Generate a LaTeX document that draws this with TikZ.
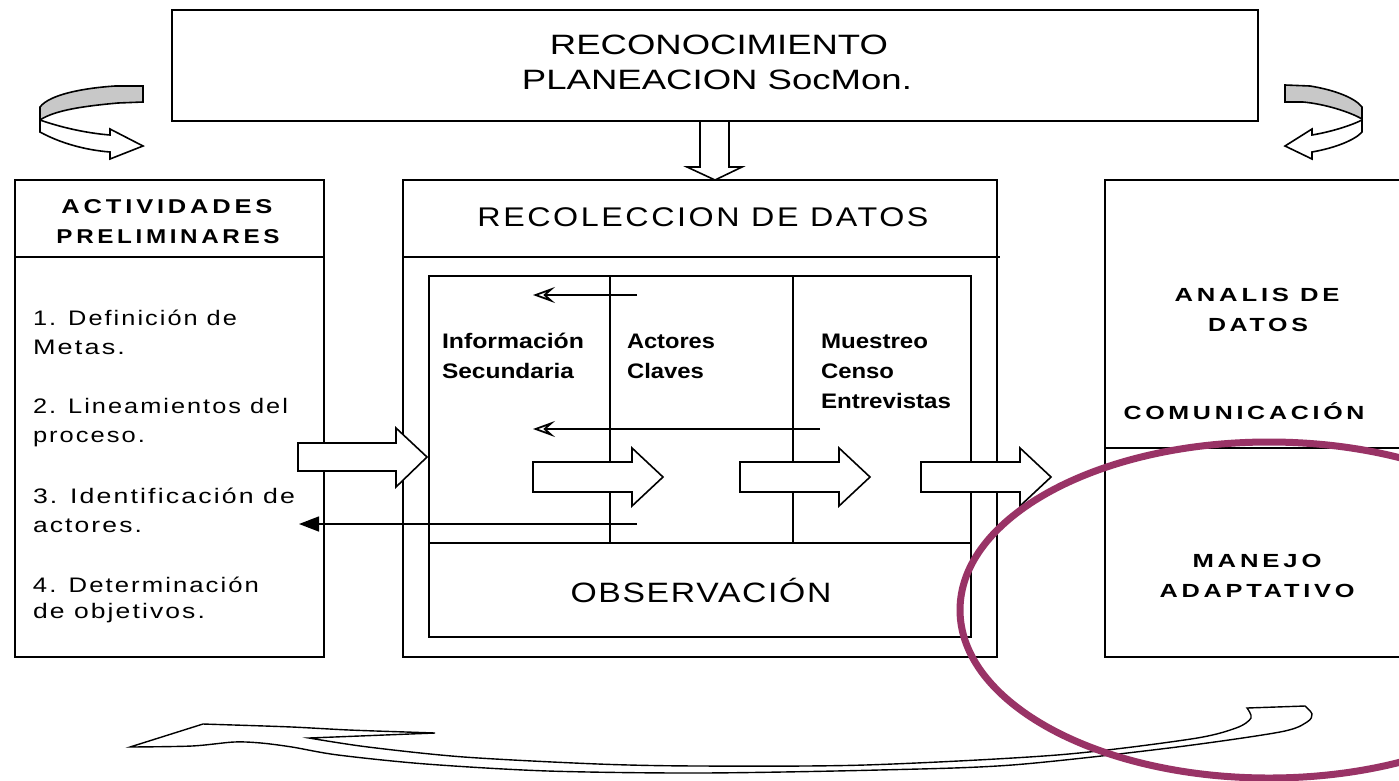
\documentclass[tikz,border=0pt]{standalone}
\usepackage{fontspec}
\setmainfont{Liberation Sans}
\usepackage{graphicx}
\usetikzlibrary{arrows.meta}
\newcommand\fitw[2]{\resizebox{#1pt}{\height}{#2}}
\newcommand\fsz[1]{\fontsize{#1}{#1}\selectfont}
\newcommand\lsp[1]{\addfontfeature{LetterSpace=#1}}
\definecolor{ellcol}{RGB}{153,51,102}
\definecolor{bandgray}{RGB}{200,200,200}
\begin{document}
\begin{tikzpicture}[x=1pt,y=-1pt,
  box/.style={draw=black,line width=1.8pt},
  divln/.style={draw=black,line width=1.8pt},
  barrow/.style={draw=black,fill=white,line width=1.6pt,line join=miter},
  uband/.style={draw=black,fill=bandgray,line width=1.6pt},
  uwhite/.style={draw=black,fill=white,line width=1.6pt},
  ribbon/.style={draw=black,fill=white,line width=1.4pt},
  thinarr/.style={draw=black,line width=1.5pt,-{Stealth[open,length=22pt,width=16pt,inset=9pt,line width=1.8pt]}},
  trarr/.style={draw=black,line width=1.5pt,-{Triangle[length=20pt,width=15pt]}},
  txt/.style={inner sep=0pt,outer sep=0pt,anchor=base,text=black},
  ltxt/.style={inner sep=0pt,outer sep=0pt,anchor=base west,text=black},
  ellip/.style={draw=ellcol,line width=7pt}
]
\clip (0,0) rectangle (1399,780);
\fill[white] (0,0) rectangle (1399,780);

% ---------- boxes ----------
\draw[box] (172,10) rectangle (1258,121);
\draw[box] (15,180) rectangle (324,657);
\draw[divln] (15,257) -- (324,257);
\draw[box] (403,180) rectangle (997,657);
\draw[divln] (403,257) -- (1000,257);
\draw[box] (429,276) rectangle (971,637);
\draw[divln] (429,543) -- (971,543);
\draw[divln] (610,276) -- (610,543);
\draw[divln] (793,276) -- (793,543);
\draw[box] (1105,180) rectangle (1420,657);
\draw[divln] (1105,448) -- (1420,448);

% ---------- texts ----------
\node[txt] (rec) at (719,54) {\fsz{28}\fitw{338}{RECONOCIMIENTO}};
\node[txt] (plan) at (717,89) {\fsz{28}\fitw{390}{PLANEACION SocMon.}};
\node[txt] (recol) at (703,226) {\fsz{27}\lsp{8}\fitw{451}{RECOLECCION DE DATOS}};
\node[txt] (obs) at (701,602) {\fsz{28}\lsp{5}\fitw{261}{OBSERVACIÓN}};

\node[txt] (act1) at (167,213) {\fsz{20}\bfseries\lsp{15}\fitw{211}{ACTIVIDADES}};
\node[txt] (act2) at (168,243) {\fsz{20}\bfseries\lsp{15}\fitw{223}{PRELIMINARES}};

\node[ltxt] (l1a) at (33,325) {\fsz{21}\lsp{8}\fitw{204}{1. Definición de}};
\node[ltxt] (l1b) at (33,354) {\fsz{21}\lsp{8}\fitw{92}{Metas.}};
\node[ltxt] (l2a) at (33,413) {\fsz{21}\lsp{8}\fitw{255}{2. Lineamientos del}};
\node[ltxt] (l2b) at (33,442) {\fsz{21}\lsp{8}\fitw{112}{proceso.}};
\node[ltxt] (l3a) at (33,503) {\fsz{21}\lsp{8}\fitw{262}{3. Identificación de}};
\node[ltxt] (l3b) at (33,532) {\fsz{21}\lsp{8}\fitw{109}{actores.}};
\node[ltxt] (l4a) at (33,592) {\fsz{21}\lsp{8}\fitw{226}{4. Determinación}};
\node[ltxt] (l4b) at (33,618) {\fsz{21}\lsp{8}\fitw{172}{de objetivos.}};

\node[ltxt] (i1) at (442,348) {\fsz{21}\bfseries\fitw{142}{Información}};
\node[ltxt] (i2) at (442,378) {\fsz{21}\bfseries\fitw{132}{Secundaria}};
\node[ltxt] (c1) at (627,348) {\fsz{21}\bfseries\fitw{88}{Actores}};
\node[ltxt] (c2) at (627,378) {\fsz{21}\bfseries\fitw{77}{Claves}};
\node[ltxt] (m1) at (821,348) {\fsz{21}\bfseries\fitw{107}{Muestreo}};
\node[ltxt] (m2) at (821,378) {\fsz{21}\bfseries\fitw{73}{Censo}};
\node[ltxt] (m3) at (821,408) {\fsz{21}\bfseries\fitw{130}{Entrevistas}};

\node[txt] (an1) at (1257,301) {\fsz{19}\bfseries\lsp{15}\fitw{165}{ANALIS DE}};
\node[txt] (an2) at (1258,331) {\fsz{19}\bfseries\lsp{15}\fitw{100}{DATOS}};
\node[txt] (com) at (1244,419) {\fsz{19}\bfseries\lsp{15}\fitw{241}{COMUNICACIÓN}};
\node[txt] (man1) at (1257,567) {\fsz{19}\bfseries\lsp{15}\fitw{129}{MANEJO}};
\node[txt] (man2) at (1257,597) {\fsz{19}\bfseries\lsp{15}\fitw{195}{ADAPTATIVO}};

% ---------- block arrows ----------
\draw[barrow] (700,121) -- (729,121) -- (729,167) -- (742,167) -- (715,180) -- (687,167) -- (700,167) -- cycle;
\draw[barrow] (298,443) -- (396,443) -- (396,428) -- (427,457) -- (396,487) -- (396,471) -- (298,471) -- cycle;
\draw[barrow] (533,462) -- (632,462) -- (632,448) -- (663,477) -- (632,506) -- (632,492) -- (533,492) -- cycle;
\draw[barrow] (740,462) -- (839,462) -- (839,448) -- (870,477) -- (839,506) -- (839,492) -- (740,492) -- cycle;
\draw[barrow] (921,462) -- (1020,462) -- (1020,448) -- (1051,477) -- (1020,506) -- (1020,492) -- (921,492) -- cycle;

% ---------- thin arrows ----------
\coordinate (t1s) at (637,295);
\coordinate (t1e) at (533,295);
\coordinate (t2s) at (820,429);
\coordinate (t2e) at (533,429);
\coordinate (t3s) at (637,524);
\coordinate (t3e) at (299,524);
\draw[thinarr] (t1s) -- (t1e);
\draw[thinarr] (t2s) -- (t2e);
\draw[trarr] (t3s) -- (t3e);

% ---------- U-turn arrows ----------
\draw[uband] (143,86) -- (143,102) -- (118,103) .. controls (85,106) and (55,110) .. (40,120) -- (40,107) .. controls (50,94) and (85,88) .. (115,86) -- cycle;
\draw[uwhite] (40,120) .. controls (60,127) and (85,133) .. (110,135) -- (110,129) -- (143,146) -- (110,159) -- (110,152) .. controls (85,150) and (60,143) .. (40,132) -- cycle;

\draw[uband] (1285,85) -- (1310,86) .. controls (1335,90) and (1355,98) .. (1362,107) -- (1362,119) .. controls (1350,112) and (1325,104) .. (1303,102) -- (1285,102) -- cycle;
\draw[uwhite] (1362,120) .. controls (1350,126) and (1330,132) .. (1312,135) -- (1312,129) -- (1285,146) -- (1312,159) -- (1312,152) .. controls (1335,148) and (1355,140) .. (1362,132) -- cycle;

% ---------- bottom long arrow ----------
\draw[ribbon] (130,747) -- (203,724) -- (234,725)
  -- plot[smooth] coordinates {(234,725) (292,727) (349,730) (406,732) (435,733)}
  -- (309,738)
  -- plot[smooth] coordinates {(309,738) (368,747) (464,757) (598,764) (700,766) (865,765) (1057,755) (1191,739) (1236,728) (1251,718) (1247,708)}
  -- (1305,706)
  -- plot[smooth] coordinates {(1305,706) (1312,714) (1307,722) (1280,732) (1169,748) (1012,765) (879,770) (700,773) (548,771) (426,764) (338,755) (292,747) (261,743) (234,742) (192,746) (130,747)}
  -- cycle;

% ---------- ellipse ----------
\draw[ellip] (1269,610) ellipse [x radius=309, y radius=168];
\end{tikzpicture}
\end{document}
